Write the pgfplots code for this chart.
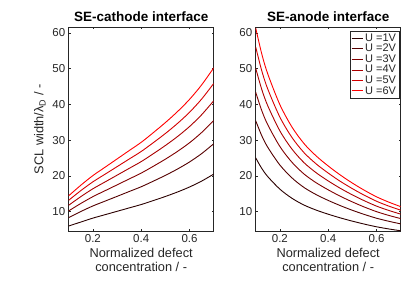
\documentclass[border=0pt]{standalone}
\usepackage{fontspec}
\setmainfont{Liberation Sans}
\usepackage{pgfplots}
\usepackage{pgfplotstable}
\pgfplotsset{compat=1.18}
\definecolor{axgray}{HTML}{262626}
\definecolor{cA}{rgb}{0.17,0,0}
\definecolor{cB}{rgb}{0.33,0,0}
\definecolor{cC}{rgb}{0.5,0,0}
\definecolor{cD}{rgb}{0.67,0,0}
\definecolor{cE}{rgb}{0.83,0,0}
\definecolor{cF}{rgb}{1,0,0}

\pgfplotstableread{
c     U1     U2     U3     U4     U5     U6
0.10  6.00   8.34   10.22  11.80  13.19  14.45
0.15  7.10   10.04  12.30  14.20  15.88  17.39
0.20  8.20   11.60  14.20  16.40  18.34  20.09
0.25  9.15   12.94  15.85  18.30  20.46  22.41
0.30  10.10  14.28  17.49  20.20  22.58  24.74
0.35  11.05  15.63  19.14  22.10  24.71  27.07
0.40  12.00  16.97  20.79  24.00  26.83  29.39
0.45  13.10  18.53  22.69  26.20  29.29  32.09
0.50  14.25  20.15  24.68  28.50  31.86  34.91
0.55  15.50  21.92  26.85  31.00  34.66  37.97
0.60  16.90  23.90  29.27  33.80  37.79  41.40
0.65  18.55  26.23  32.13  37.10  41.48  45.44
0.70  20.50  28.99  35.51  41.00  45.84  50.21
}\cathode

\pgfplotstableread{
c      U1     U2     U3     U4     U5     U6
0.100  25.05  35.43  43.39  50.10  56.01  61.36
0.125  22.10  31.25  38.28  44.20  49.42  54.13
0.150  19.80  28.00  34.30  39.60  44.27  48.50
0.200  16.30  23.05  28.23  32.60  36.45  39.93
0.250  13.75  19.45  23.82  27.50  30.75  33.68
0.300  11.85  16.76  20.53  23.70  26.50  29.03
0.350  10.45  14.78  18.10  20.90  23.37  25.60
0.400  9.30   13.15  16.11  18.60  20.80  22.78
0.450  8.27   11.70  14.32  16.54  18.49  20.26
0.500  7.35   10.39  12.73  14.70  16.44  18.00
0.550  6.52   9.22   11.29  13.04  14.58  15.97
0.600  5.78   8.17   10.01  11.56  12.92  14.16
0.650  5.18   7.33   8.97   10.36  11.58  12.69
0.700  4.66   6.59   8.07   9.32   10.42  11.41
}\anode

\pgfplotsset{
  myaxis/.style={
    anchor=south west,
    scale only axis,
    width=145pt, height=203.5pt,
    xmin=0.1, xmax=0.7, ymin=4.6, ymax=61.5,
    xtick={0.2,0.4,0.6}, ytick={10,20,30,40,50,60},
    xticklabel style={/pgf/number format/fixed, /pgf/number format/precision=1},
    /pgf/number format/assume math mode=true,
    tick align=inside,
    major tick length=2pt,
    axis line style={axgray, line width=0.5pt},
    every tick/.style={axgray, line width=0.5pt},
    tick label style={font=\fontsize{11.5}{13}\selectfont, text=axgray},
    label style={font=\fontsize{12.8}{14}\selectfont, text=axgray},
    title style={font=\fontsize{13.5}{15}\selectfont\bfseries, yshift=-4pt},
    xlabel={Normalized defect\\concentration / -},
    xlabel style={align=center, yshift=1.5pt},
    every axis plot/.append style={line width=0.9pt, no marks, smooth},
  }
}

\begin{document}
\begin{tikzpicture}
\path[use as bounding box] (0pt,0pt) rectangle (415pt,302pt);
\begin{axis}[myaxis, at={(68.7pt,71pt)},
  title={SE-cathode interface},
  ylabel={SCL width/λ\textsubscript{D} / -},
  ylabel style={yshift=0pt}]
\addplot[cA] table[x=c,y=U1] {\cathode};
\addplot[cB] table[x=c,y=U2] {\cathode};
\addplot[cC] table[x=c,y=U3] {\cathode};
\addplot[cD] table[x=c,y=U4] {\cathode};
\addplot[cE] table[x=c,y=U5] {\cathode};
\addplot[cF] table[x=c,y=U6] {\cathode};
\end{axis}
\begin{axis}[myaxis, at={(255.7pt,71pt)},
  title={SE-anode interface},
  legend style={at={(rel axis cs:0.99,0.985)}, anchor=north east,
    font=\fontsize{11}{12}\selectfont, text=axgray, draw=axgray,
    inner sep=1pt, row sep=-2.6pt, line width=0.5pt},
  legend cell align=left,
  legend image code/.code={\draw[#1, line width=0.9pt] (0pt,0pt) -- (11pt,0pt);}]
\addplot[cA] table[x=c,y=U1] {\anode};
\addplot[cB] table[x=c,y=U2] {\anode};
\addplot[cC] table[x=c,y=U3] {\anode};
\addplot[cD] table[x=c,y=U4] {\anode};
\addplot[cE] table[x=c,y=U5] {\anode};
\addplot[cF] table[x=c,y=U6] {\anode};
\legend{U =1V, U =2V, U =3V, U =4V, U =5V, U =6V}
\end{axis}
\end{tikzpicture}
\end{document}
